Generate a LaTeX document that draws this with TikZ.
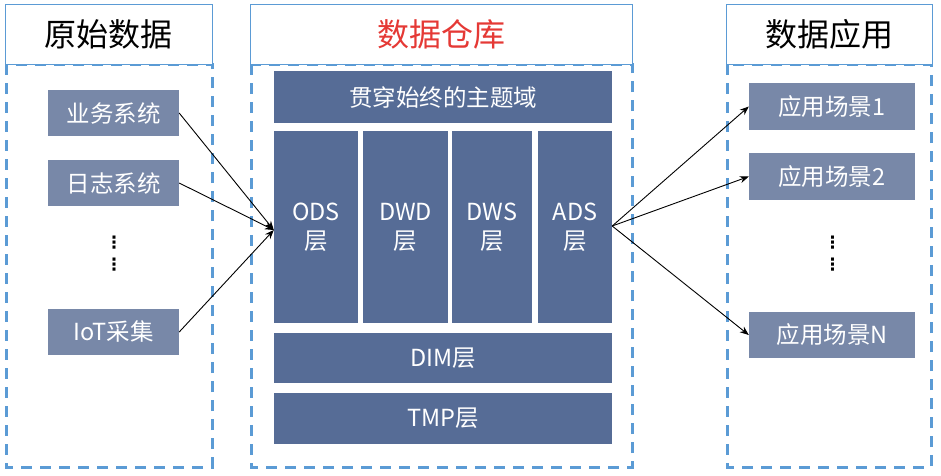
\documentclass[tikz,border=0pt]{standalone}
\usepackage{fontspec}
\setmainfont{Noto Sans CJK SC}
\newfontfamily\symfont{DejaVu Sans}
\usetikzlibrary{arrows.meta}
\definecolor{dashblue}{HTML}{5B9BD5}
\definecolor{darkbox}{HTML}{566C96}
\definecolor{lightbox}{HTML}{7888A8}
\definecolor{titlered}{HTML}{E53935}
\tikzset{
  header/.style={draw=dashblue,line width=1pt,fill=white},
  panel/.style={draw=dashblue,line width=3pt,dash pattern=on 11pt off 8pt},
  dbox/.style={fill=darkbox,text=white,inner sep=0pt,font=\fontsize{23.5}{29}\selectfont},
  lbox/.style={fill=lightbox,text=white,inner sep=0pt,font=\fontsize{23.5}{28}\selectfont},
  conn/.style={line width=0.9pt,-{Stealth[length=9pt,width=7pt]}},
  htext/.style={font=\fontsize{32}{36}\selectfont},
  vdots/.style={font=\symfont\bfseries\fontsize{17}{17}\selectfont,inner sep=0pt},
}
\begin{document}
\begin{tikzpicture}[x=1pt,y=-1pt]
\useasboundingbox (0,0) rectangle (941,475);
% panels
\draw[panel] (6,64) rectangle (212,467);
\draw[panel] (251,64) rectangle (632,467);
\draw[panel] (727,64) rectangle (931,467);
\draw[header] (5,4) rectangle (212,64);
\draw[header] (250,4) rectangle (632,64);
\draw[header] (726,4) rectangle (932,64);
\node[htext] (h1) at (108.5,34) {原始数据};
\node[htext,text=titlered] (h2) at (441,34) {数据仓库};
\node[htext] (h3) at (829,34) {数据应用};
% left boxes
\node[lbox,minimum width=131pt,minimum height=46pt] (s1) at (113.5,113) {业务系统};
\node[lbox,minimum width=131pt,minimum height=46pt] (s2) at (113.5,183) {日志系统};
\node[lbox,minimum width=131pt,minimum height=46pt] (s3) at (113.5,332) {IoT采集};
\node[vdots] (d1a) at (114,243) {⋮};
\node[vdots] (d1b) at (114,264.5) {⋮};
% middle
\node[dbox,minimum width=338pt,minimum height=52pt] (top) at (443,97) {贯穿始终的主题域};
\node[dbox,minimum width=84pt,minimum height=192pt,align=center] (ods) at (316,227) {ODS\\层};
\node[dbox,minimum width=85pt,minimum height=192pt,align=center] (dwd) at (405.5,227) {DWD\\层};
\node[dbox,minimum width=80pt,minimum height=192pt,align=center] (dws) at (492,227) {DWS\\层};
\node[dbox,minimum width=74pt,minimum height=192pt,align=center] (ads) at (575,227) {ADS\\层};
\node[dbox,minimum width=338pt,minimum height=50pt] (dim) at (443,358) {DIM层};
\node[dbox,minimum width=338pt,minimum height=51pt] (tmp) at (443,418.5) {TMP层};
% right
\node[lbox,minimum width=166pt,minimum height=47pt] (a1) at (832,106.5) {应用场景1};
\node[lbox,minimum width=166pt,minimum height=47pt] (a2) at (832,176.5) {应用场景2};
\node[lbox,minimum width=166pt,minimum height=46pt] (an) at (832,335) {应用场景N};
\node[vdots] (d2a) at (832.5,243) {⋮};
\node[vdots] (d2b) at (832.5,264.5) {⋮};
% connectors
\coordinate (in) at (ods.west |- 0,230);
\coordinate (out) at (ads.east |- 0,226);
\draw[conn] (s1.east) -- (in);
\draw[conn] (s2.east) -- (in);
\draw[conn] (s3.east) -- (in);
\draw[conn] (out) -- (a1.west);
\draw[conn] (out) -- (a2.west);
\draw[conn] (out) -- (an.west);
\end{tikzpicture}
\end{document}
